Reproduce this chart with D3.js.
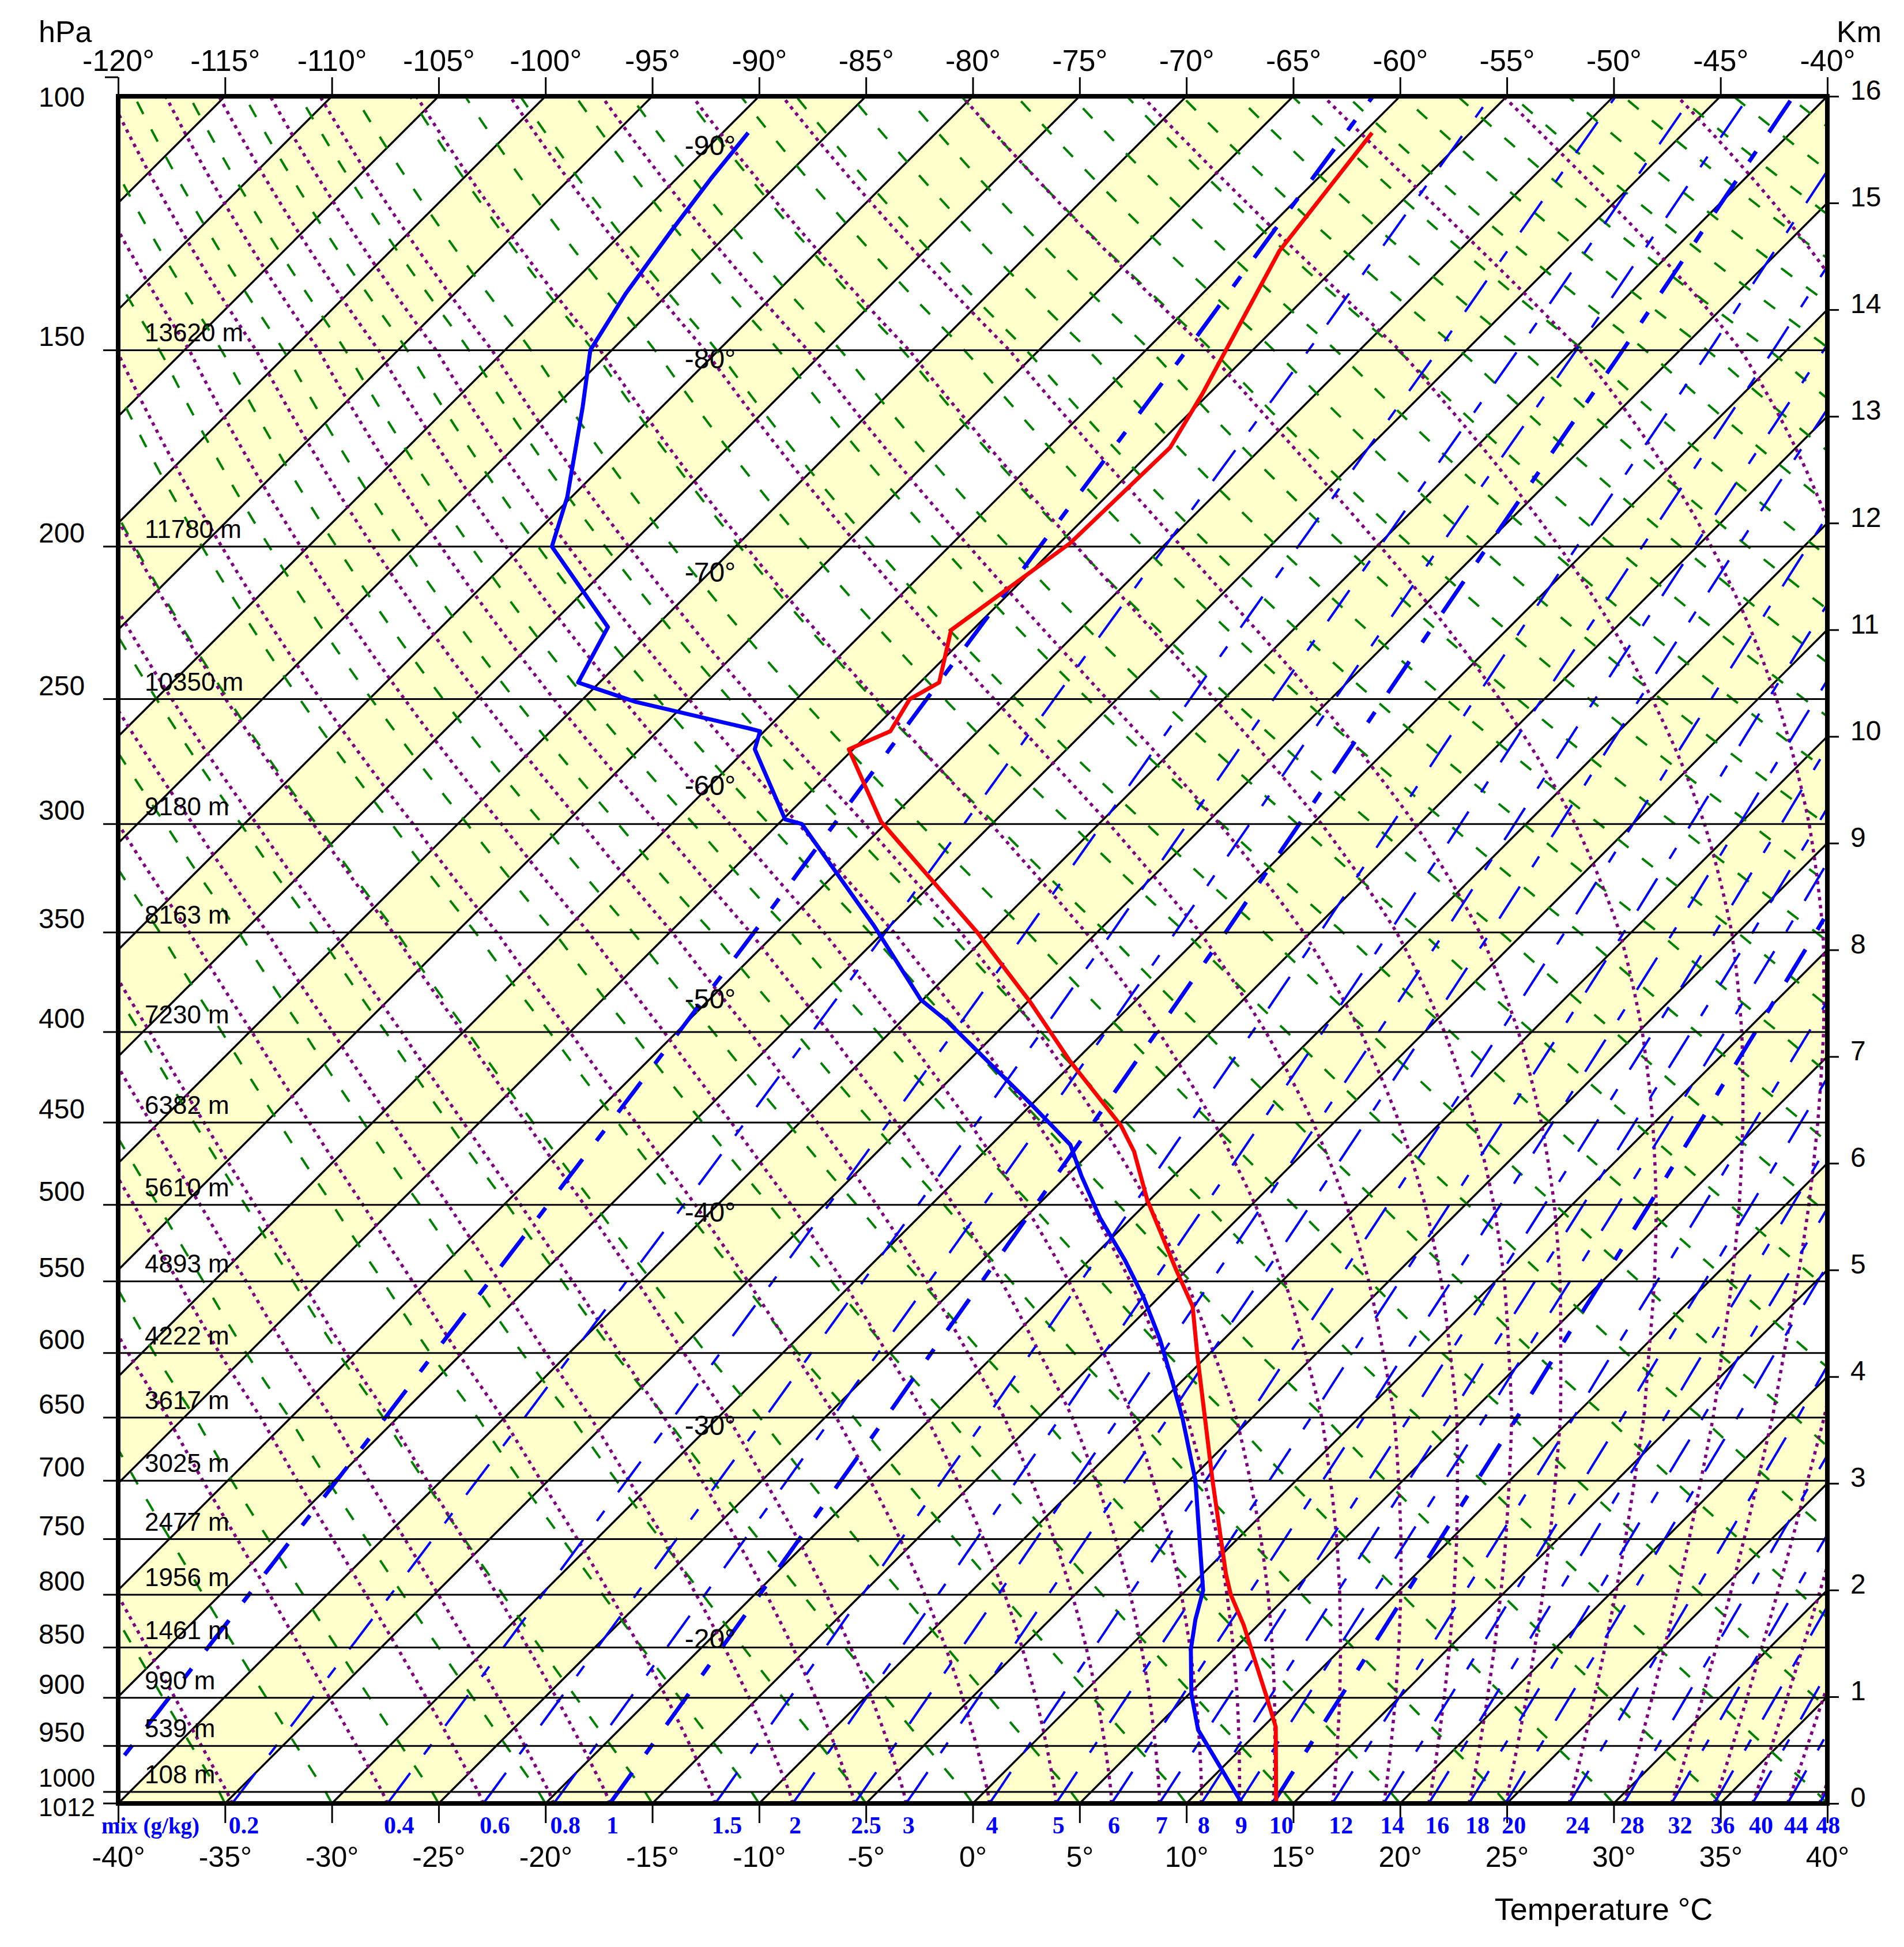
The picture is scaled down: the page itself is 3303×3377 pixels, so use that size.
<!DOCTYPE html>
<html>
<head>
<meta charset="utf-8">
<script src="https://cdn.jsdelivr.net/npm/d3@7"></script>
<style>
  html, body { margin: 0; padding: 0; background: #fff; }
  svg { display: block; }
</style>
</head>
<body>
<div id="chart"></div>
<script>
// pressure levels (hPa) and the heights printed beside them (m)
const pressureLevels = [1012, 1000, 950, 900, 850, 800, 750, 700, 650, 600, 550, 500, 450, 400, 350, 300, 250, 200, 150, 100];
const levelHeights = [0, 108, 539, 990, 1461, 1956, 2477, 3025, 3617, 4222, 4893, 5610, 6382, 7230, 8163, 9180, 10350, 11780, 13620, 16000];

// temperature sounding
const tempPressure = [1012, 930, 898, 828, 800, 781, 700, 603, 567, 542, 497, 467, 452, 415, 384, 350, 299, 269, 262, 250, 244, 226, 199, 173, 160, 128, 106];
const temperature = [14.2, 10.6, 8.7, 4.3, 2.3, 1.1, -3.9, -10.4, -13.0, -15.5, -20.1, -23.0, -24.8, -30.3, -34.9, -40.6, -50.3, -55.2, -54.1, -54.7, -54.1, -56.0, -54.5, -54.3, -55.3, -58.4, -59.6];

// dew point sounding
const dewPressure = [1012, 933, 896, 852, 823, 796, 700, 651, 622, 590, 561, 536, 508, 482, 463, 439, 394, 383, 347, 300, 298, 269, 262, 261, 251, 244, 225, 200, 186, 163, 150, 137, 124, 114, 106];
const dewpoint = [12.6, 7.1, 5.1, 3.0, 1.8, 0.8, -4.7, -8.2, -10.4, -13.0, -15.7, -18.3, -21.5, -24.3, -26.3, -30.1, -37.9, -40.1, -45.7, -53.9, -54.9, -59.6, -60.2, -60.8, -67.4, -71.0, -72.2, -78.6, -80.2, -83.7, -86.0, -87.0, -87.8, -88.4, -88.8];

// saturation mixing ratio lines (g/kg)
const mixingRatios = [0.1, 0.2, 0.4, 0.6, 0.8, 1, 1.5, 2, 2.5, 3, 4, 5, 6, 7, 8, 9, 10, 12, 14, 16, 18, 20, 24, 28, 32, 36, 40, 44, 48];
const thickMixing = [0.1, 1, 10];

const topTicks = d3.range(-120, -35, 5);
const bottomTicks = d3.range(-40, 45, 5);
const kmTicks = d3.range(0, 17);
const isothermLabels = [-90, -80, -70, -60, -50, -40, -30, -20];

const W = 3303, H = 3377;
const plot = { left: 205, right: 3170, top: 167, bottom: 3128 };
const skew = 5; // degC per km
const font = "'Liberation Sans', Arial, Helvetica, sans-serif";
const serif = "'Liberation Serif', 'Times New Roman', serif";

const xb = d3.scaleLinear().domain([-40, 40]).range([plot.left, plot.right]);
const xTop = d3.scaleLinear().domain([-120, -40]).range([plot.left, plot.right]);
const y = d3.scaleLinear().domain([0, 16000]).range([plot.bottom, plot.top]);
const kmScale = d3.scaleLinear().domain([0, 16]).range([plot.bottom, plot.top]);
const heightOf = d3.scaleLinear().domain(pressureLevels.map(p => Math.log(p))).range(levelHeights);

function px(t, z) { return xb(t + skew * z / 1000); }
function pt(t, p) {
    const z = heightOf(Math.log(p));
    return [px(t, z), y(z)];
}

// thermodynamics for the background lines
const Rd = 287.04, Cp = 1005.7, Lv = 2.501e6, eps = 0.622;
function satVapor(tc) { return 6.112 * Math.exp(17.67 * tc / (tc + 243.5)); }
function satMix(tc, p) { const e = satVapor(tc); return eps * e / (p - e); }
function dewFromMix(w, p) {
    const e = p * w / (622 + w);
    const l = Math.log(e / 6.112);
    return 243.5 * l / (17.67 - l);
}
function moistLapse(tk, p) {
    const r = satMix(tk - 273.15, p);
    return (Rd * tk + Lv * r) / (Cp + Lv * Lv * r * eps / (Rd * tk * tk)) / p;
}
function moistPath(t0) {
    let tk = t0 + 273.15, p = 1012;
    const out = [pt(t0, p)];
    const dp = -2;
    while (p > 100) {
        const k1 = moistLapse(tk, p);
        const k2 = moistLapse(tk + k1 * dp, p + dp);
        tk += (k1 + k2) / 2 * dp;
        p += dp;
        out.push(pt(tk - 273.15, Math.max(p, 100)));
    }
    return out;
}

const pSteps = d3.range(1012, 99, -4);
const line = d3.line();

const svg = d3.select("#chart").append("svg")
    .attr("width", W).attr("height", H)
    .attr("viewBox", `0 0 ${W} ${H}`);

svg.append("rect").attr("width", W).attr("height", H).attr("fill", "#fff");

svg.append("clipPath").attr("id", "plotClip")
    .append("rect")
    .attr("x", plot.left).attr("y", plot.top)
    .attr("width", plot.right - plot.left).attr("height", plot.bottom - plot.top);

const g = svg.append("g").attr("clip-path", "url(#plotClip)");

// yellow bands between isotherms
g.selectAll(".band")
    .data(d3.range(-120, 40, 10))
    .enter()
    .append("path")
    .attr("class", "band")
    .attr("fill", "#ffffcc")
    .attr("d", t => line([[px(t, 0), y(0)], [px(t + 5, 0), y(0)], [px(t + 5, 16000), y(16000)], [px(t, 16000), y(16000)]]) + "Z");

// pressure lines
svg.selectAll(".plevel")
    .data(pressureLevels.filter(p => p !== 100))
    .enter()
    .append("line")
    .attr("class", "plevel")
    .attr("x1", 179).attr("x2", plot.right)
    .attr("y1", p => y(levelHeights[pressureLevels.indexOf(p)]))
    .attr("y2", p => y(levelHeights[pressureLevels.indexOf(p)]))
    .attr("stroke", "#000").attr("stroke-width", 3);

// isotherms
g.selectAll(".iso")
    .data(d3.range(-120, 45, 5))
    .enter()
    .append("line")
    .attr("class", "iso")
    .attr("x1", t => px(t, 0)).attr("y1", y(0))
    .attr("x2", t => px(t, 16000)).attr("y2", y(16000))
    .attr("stroke", "#000").attr("stroke-width", 3.5);

// dry adiabats
g.selectAll(".dry")
    .data(d3.range(-40, 185, 5))
    .enter()
    .append("path")
    .attr("class", "dry")
    .attr("fill", "none")
    .attr("stroke", "#008000").attr("stroke-width", 4)
    .attr("stroke-dasharray", "24,30")
    .attr("d", t0 => line(pSteps.map(p => pt((t0 + 273.15) * Math.pow(p / 1012, 0.2857) - 273.15, p))));

// moist adiabats, starting where each mixing ratio line meets the ground
g.selectAll(".moist")
    .data(mixingRatios)
    .enter()
    .append("path")
    .attr("class", "moist")
    .attr("fill", "none")
    .attr("stroke", "#800080").attr("stroke-width", 5.5)
    .attr("stroke-dasharray", "6,8")
    .attr("d", w => line(moistPath(dewFromMix(w, 1012))));

// mixing ratio lines
g.selectAll(".mix")
    .data(mixingRatios)
    .enter()
    .append("path")
    .attr("class", "mix")
    .attr("fill", "none")
    .attr("stroke", "#0000ff")
    .attr("stroke-width", w => thickMixing.includes(w) ? 7 : 4)
    .attr("stroke-dasharray", "66,40,22,40")
    .attr("d", w => line(pSteps.map(p => pt(dewFromMix(w, p), p))));

// isotherm labels along a fixed column
const labelX = 1232;
svg.selectAll(".isoLabel")
    .data(isothermLabels)
    .enter()
    .append("text")
    .attr("class", "isoLabel")
    .attr("x", labelX)
    .attr("y", t => y((xb.invert(labelX) - t) / skew * 1000))
    .attr("dy", "0.35em")
    .attr("text-anchor", "middle")
    .attr("font-family", font).attr("font-size", 48)
    .text(t => t + "°");

// height labels
svg.selectAll(".hLabel")
    .data(levelHeights.filter((h, i) => pressureLevels[i] !== 1012 && pressureLevels[i] !== 100))
    .enter()
    .append("text")
    .attr("class", "hLabel")
    .attr("x", 251)
    .attr("y", h => y(h) - 15)
    .attr("font-family", font).attr("font-size", 44)
    .text(h => h + " m");

// profiles
svg.append("path")
    .attr("fill", "none").attr("stroke", "#ff0000").attr("stroke-width", 7)
    .attr("stroke-linejoin", "round")
    .attr("d", line(tempPressure.map((p, i) => pt(temperature[i], p))));

svg.append("path")
    .attr("fill", "none").attr("stroke", "#0000ff").attr("stroke-width", 7)
    .attr("stroke-linejoin", "round")
    .attr("d", line(dewPressure.map((p, i) => pt(dewpoint[i], p))));

// frame
svg.append("rect")
    .attr("x", plot.left).attr("y", plot.top)
    .attr("width", plot.right - plot.left).attr("height", plot.bottom - plot.top)
    .attr("fill", "none").attr("stroke", "#000").attr("stroke-width", 8);

// top temperature axis
const topAxis = svg.append("g")
    .attr("transform", `translate(0,${plot.top})`)
    .call(d3.axisTop(xTop).tickValues(topTicks).tickSize(33).tickPadding(11).tickFormat(d => d + "°"));
topAxis.select(".domain").remove();
topAxis.selectAll("line").attr("stroke-width", 3);
topAxis.selectAll("text").attr("font-family", font).attr("font-size", 52).attr("fill", "#000");
svg.append("line").attr("x1", 182).attr("x2", plot.left).attr("y1", 134).attr("y2", 134)
    .attr("stroke", "#000").attr("stroke-width", 3);

// bottom temperature axis
const bottomAxis = svg.append("g")
    .attr("transform", `translate(0,${plot.bottom})`)
    .call(d3.axisBottom(xb).tickValues(bottomTicks).tickSize(34).tickPadding(40).tickFormat(d => d + "°"));
bottomAxis.select(".domain").remove();
bottomAxis.selectAll("line").attr("stroke-width", 3);
bottomAxis.selectAll("text").attr("font-family", font).attr("font-size", 50).attr("fill", "#000");

// km axis
const kmAxis = svg.append("g")
    .attr("transform", `translate(${plot.right},0)`)
    .call(d3.axisRight(kmScale).tickValues(kmTicks).tickSize(20).tickPadding(20).tickFormat(d3.format("d")));
kmAxis.select(".domain").remove();
kmAxis.selectAll("line").attr("stroke-width", 3);
kmAxis.selectAll("text").attr("font-family", font).attr("font-size", 48).attr("fill", "#000").attr("dy", "0.12em");

// pressure labels (the two lowest sit tightly stacked)
svg.selectAll(".pLabel")
    .data(pressureLevels)
    .enter()
    .append("text")
    .attr("class", "pLabel")
    .attr("x", 67)
    .attr("y", (p, i) => {
        const yy = y(levelHeights[i]);
        if (p === 100) return yy + 18;
        if (p === 1012) return yy + 22;
        if (p === 1000) return yy - 9;
        return yy - 7;
    })
    .attr("font-family", font)
    .attr("font-size", p => (p === 1000 || p === 1012) ? 44 : 48)
    .text(p => p);

svg.append("text").attr("x", 67).attr("y", 73)
    .attr("font-family", font).attr("font-size", 52).text("hPa");
svg.append("text").attr("x", 3186).attr("y", 73)
    .attr("font-family", font).attr("font-size", 52).text("Km");

// mixing ratio labels
svg.append("text").attr("x", 176).attr("y", 3180)
    .attr("font-family", serif).attr("font-weight", "bold").attr("font-size", 39)
    .attr("fill", "#0000ff").text("mix (g/kg)");
svg.selectAll(".mixLabel")
    .data(mixingRatios.filter(w => xb(dewFromMix(w, 1012)) >= plot.left))
    .enter()
    .append("text")
    .attr("class", "mixLabel")
    .attr("x", w => Math.max(364, xb(dewFromMix(w, 1012)) - 6))
    .attr("y", 3180)
    .attr("font-family", serif).attr("font-weight", "bold").attr("font-size", 42)
    .attr("fill", "#0000ff")
    .text(w => w);

svg.append("text").attr("x", 2782).attr("y", 3330)
    .attr("text-anchor", "middle")
    .attr("font-family", font).attr("font-size", 54)
    .text("Temperature °C");
</script>
</body>
</html>
